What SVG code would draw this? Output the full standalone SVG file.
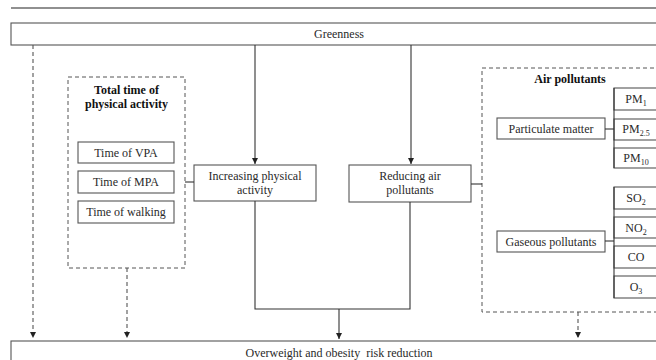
<svg xmlns="http://www.w3.org/2000/svg" width="656" height="360" viewBox="0 0 656 360">
<defs>
<style>
.box{fill:#fff;stroke:#555;stroke-width:1.1}
.dbox{fill:none;stroke:#555;stroke-width:1;stroke-dasharray:4,3}
.t{font-family:"Liberation Serif","Times New Roman",serif;font-size:12px;fill:#2a2a2a;text-anchor:middle}
.b{font-weight:bold;fill:#111}
.ln{fill:none;stroke:#333;stroke-width:1.1}
.dl{fill:none;stroke:#555;stroke-width:1.1;stroke-dasharray:4,3}
</style>
<marker id="ah" viewBox="0 0 10 10" refX="10" refY="5" markerWidth="6" markerHeight="6" markerUnits="userSpaceOnUse" orient="auto">
<path d="M0,0 L10,5 L0,10 z" fill="#222"/>
</marker>
</defs>
<rect width="656" height="360" fill="#fff"/>
<line x1="11" y1="8" x2="656" y2="8" stroke="#222" stroke-width="1.2"/>

<g id="greenness">
<rect class="box" x="11" y="23" width="660" height="22"/>
<text class="t" x="339" y="38">Greenness</text>
</g>

<g id="outcome">
<rect class="box" x="11" y="341" width="660" height="30"/>
<text class="t" x="339" y="357" style="white-space:pre">Overweight and obesity  risk reduction</text>
</g>

<g id="pa-group">
<rect class="dbox" x="68" y="77" width="117" height="191"/>
<text class="t b" x="126.5" y="94">Total time of</text>
<text class="t b" x="126.5" y="108">physical activity</text>
</g>
<g id="vpa"><rect class="box" x="78" y="142" width="96" height="21"/><text class="t" x="126" y="157">Time of VPA</text></g>
<g id="mpa"><rect class="box" x="78" y="171" width="96" height="22"/><text class="t" x="126" y="186">Time of MPA</text></g>
<g id="walk"><rect class="box" x="78" y="201" width="96" height="22"/><text class="t" x="126" y="216">Time of walking</text></g>

<g id="increasing">
<rect class="box" x="194" y="165" width="122" height="36"/>
<text class="t" x="255" y="180">Increasing physical</text>
<text class="t" x="255" y="194">activity</text>
</g>

<g id="reducing">
<rect class="box" x="349" y="165" width="122" height="37"/>
<text class="t" x="410" y="180">Reducing air</text>
<text class="t" x="410" y="194">pollutants</text>
</g>

<g id="air-group">
<rect class="dbox" x="482" y="68" width="190" height="244"/>
<text class="t b" x="570" y="83">Air pollutants</text>
</g>
<g id="pm"><rect class="box" x="497" y="118" width="108" height="21"/><text class="t" x="551" y="133">Particulate matter</text></g>
<g id="gas"><rect class="box" x="497" y="231" width="108" height="21"/><text class="t" x="551" y="246">Gaseous pollutants</text></g>

<g id="pm1"><rect class="box" x="614" y="88" width="50" height="22"/><text class="t" x="636" y="103">PM<tspan font-size="8" dy="3">1</tspan></text></g>
<g id="pm25"><rect class="box" x="614" y="119" width="50" height="21"/><text class="t" x="636" y="133">PM<tspan font-size="8" dy="3">2.5</tspan></text></g>
<g id="pm10"><rect class="box" x="614" y="148" width="50" height="20"/><text class="t" x="636" y="162">PM<tspan font-size="8" dy="3">10</tspan></text></g>

<g id="so2"><rect class="box" x="614" y="187" width="50" height="22"/><text class="t" x="636" y="202">SO<tspan font-size="8" dy="3">2</tspan></text></g>
<g id="no2"><rect class="box" x="614" y="217" width="50" height="21"/><text class="t" x="636" y="232">NO<tspan font-size="8" dy="3">2</tspan></text></g>
<g id="co"><rect class="box" x="614" y="246" width="50" height="22"/><text class="t" x="636" y="261">CO</text></g>
<g id="o3"><rect class="box" x="614" y="276" width="50" height="22"/><text class="t" x="636" y="291">O<tspan font-size="8" dy="3">3</tspan></text></g>

<g id="connectors">
<line class="dl" x1="33" y1="45" x2="33" y2="338" marker-end="url(#ah)"/>
<line class="dl" x1="127" y1="268" x2="127" y2="338" marker-end="url(#ah)"/>
<line class="dl" x1="578" y1="312" x2="578" y2="338" marker-end="url(#ah)"/>
<line class="ln" x1="255" y1="45" x2="255" y2="164" marker-end="url(#ah)"/>
<line class="ln" x1="411" y1="45" x2="411" y2="164" marker-end="url(#ah)"/>
<line class="ln" x1="185" y1="182" x2="194" y2="182"/>
<line class="ln" x1="471" y1="184" x2="482" y2="184"/>
<polyline class="ln" points="255,201 255,309 410,309 410,202"/>
<line class="ln" x1="339" y1="309" x2="339" y2="339" marker-end="url(#ah)"/>
<line class="ln" x1="605" y1="129" x2="614" y2="129"/>
<line class="ln" x1="605" y1="241" x2="614" y2="241"/>
<line class="ln" x1="614" y1="88" x2="614" y2="168"/>
<line class="ln" x1="614" y1="187" x2="614" y2="298"/>
</g>
</svg>
